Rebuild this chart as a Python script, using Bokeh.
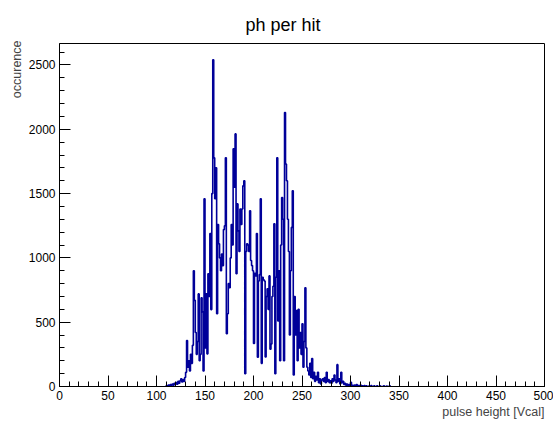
from bokeh.plotting import figure
from bokeh.models import Range1d, Title, FixedTicker
from bokeh.embed import file_html
from bokeh.resources import INLINE

# histogram: 1 Vcal bins, first bin low edge
first_edge = 110
counts = [
    8, 0, 12, 5, 15, 8, 20, 10, 25, 15,
    30, 18, 40, 25, 45, 60, 35, 55, 40, 70,
    110, 357, 150, 200, 120, 250, 180, 320, 900, 670,
    420, 250, 350, 720, 200, 250, 690, 580, 120, 1460,
    300, 720, 254, 877, 700, 1190, 598, 1500, 2540, 1778,
    1460, 1700, 566, 1260, 1110, 1000, 900, 1030, 940, 1220,
    1250, 1778, 411, 566, 800, 768, 1000, 1260, 1100, 1848,
    1550, 1964, 877, 1420, 1210, 1050, 1380, 1260, 1380, 1560,
    1600, 100, 1050, 1110, 1100, 1050, 1366, 980, 940, 900,
    334, 880, 860, 1190, 228, 820, 870, 1460, 180, 850,
    830, 820, 230, 700, 760, 600, 860, 290, 330, 700,
    780, 1265, 100, 850, 1778, 510, 900, 200, 1100, 1470,
    1300, 200, 2130, 1730, 1600, 1300, 1050, 400, 900, 1237,
    1522, 90, 700, 400, 590, 200, 600, 300, 420, 250,
    488, 150, 350, 768, 300, 150, 120, 90, 180, 70,
    217, 60, 110, 40, 80, 50, 111, 30, 60, 20,
    50, 60, 40, 70, 30, 111, 40, 55, 30, 45,
    25, 60, 40, 90, 50, 30, 170, 40, 60, 20,
    111, 30, 40, 15, 25, 10, 20, 5, 15, 10,
    33, 5, 10, 0, 12, 5, 15, 0, 8, 0,
    12, 0, 5, 0, 8, 0, 5, 0, 0, 5,
    0, 8, 0, 0, 5, 0, 0, 5, 0, 0,
    6, 0, 0, 0, 5, 0, 0, 4, 0, 0,
    5,
]
x_ticks = [0, 50, 100, 150, 200, 250, 300, 350, 400, 450, 500]
y_ticks = [0, 500, 1000, 1500, 2000, 2500]
title_text = "ph per hit"
x_label = "pulse height [Vcal]"
y_label = "occurence"

edges = [first_edge + i for i in range(len(counts) + 1)]
step_y = [0] + counts + [0]
step_x = [edges[0]] + edges

FONT = "Liberation Sans"

p = figure(width=553, height=421, output_backend="svg", toolbar_location=None,
           x_range=Range1d(0, 500), y_range=Range1d(0, 2667),
           min_border_left=59, min_border_right=9, min_border_top=43,
           min_border_bottom=35)
p.title.text = title_text
p.title.align = "left"
p.title.offset = 186
p.title.text_font = FONT
p.title.text_font_size = "18px"
p.title.text_font_style = "normal"
p.title.text_color = "#000000"
p.title.standoff = 18

p.step(step_x, step_y, mode="after", line_color="#000099", line_width=1.6)

p.grid.visible = False
p.outline_line_color = "#000000"
p.outline_line_width = 1
p.background_fill_color = "white"
p.border_fill_color = "white"

for ax, ticks, minor in ((p.xaxis[0], x_ticks, list(range(0, 501, 10))),
                         (p.yaxis[0], y_ticks, list(range(0, 2667, 100)))):
    ax.ticker = FixedTicker(ticks=ticks, minor_ticks=minor)
    ax.major_tick_in = 11
    ax.major_tick_out = 0
    ax.minor_tick_in = 5
    ax.minor_tick_out = 0
    ax.axis_line_color = "#000000"
    ax.major_tick_line_color = "#000000"
    ax.minor_tick_line_color = "#000000"
    ax.major_label_text_font = FONT
    ax.major_label_text_font_size = "12px"
    ax.major_label_text_color = "#000000"
    ax.major_label_standoff = 4

p.xaxis[0].major_label_standoff = 4

p.add_layout(Title(text=x_label, align="right", text_font=FONT,
                   text_font_size="12.5px", text_font_style="normal",
                   standoff=0, offset=0), "below")
p.add_layout(Title(text=y_label, align="right", text_font=FONT,
                   text_font_size="12.5px", text_font_style="normal",
                   standoff=3, offset=-3), "left")

open("out.html", "w").write(file_html(p, INLINE))
